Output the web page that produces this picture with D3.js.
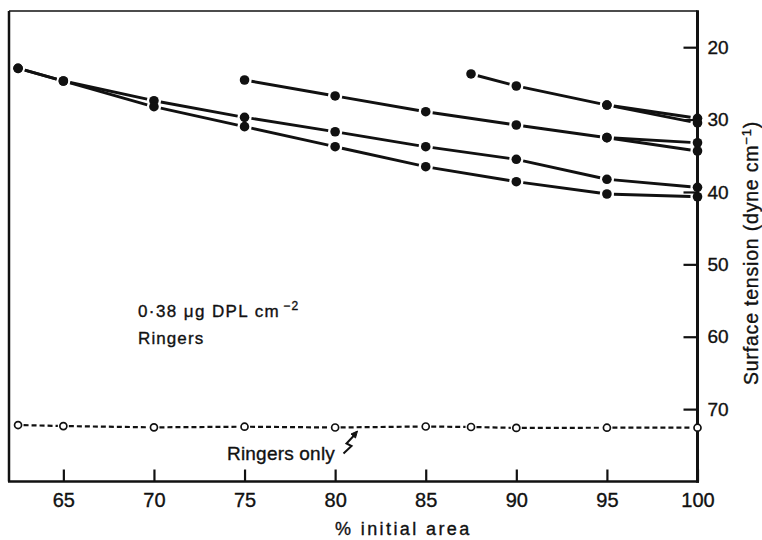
<!DOCTYPE html>
<html>
<head>
<meta charset="utf-8">
<script src="https://cdn.jsdelivr.net/npm/d3@7"></script>
<style>
  html, body { margin: 0; padding: 0; background: #fff; }
  svg { display: block; }
  text { font-family: "Liberation Sans", Arial, Helvetica, sans-serif; fill: #111; stroke: #111; stroke-width: 0.35px; }
</style>
</head>
<body>
<svg id="chart" width="762" height="540"></svg>
<script>
// ---- data ----
const xTicks = [65, 70, 75, 80, 85, 90, 95, 100];
const yTicks = [20, 30, 40, 50, 60, 70];

// DPL 0.38 µg/cm2 on Ringers: compressions to various % initial area
const areaA  = [87.5, 90, 95, 100];
const tensA  = [23.70, 25.36, 27.99, 29.82];
const areaA2 = [95, 100];
const tensA2 = [27.99, 30.47];
const areaB  = [75, 80, 85, 90, 95, 100];
const tensB  = [24.53, 26.74, 28.91, 30.75, 32.50, 33.20];
const areaB2 = [95, 100];
const tensB2 = [32.50, 34.34];
const areaC  = [62.5, 65, 70, 75, 80, 85, 90, 95, 100];
const tensC  = [22.92, 24.67, 27.39, 29.69, 31.68, 33.75, 35.49, 38.25, 39.36];
const areaD  = [62.5, 65, 70, 75, 80, 85, 90, 95, 100];
const tensD  = [22.92, 24.67, 28.22, 30.98, 33.75, 36.51, 38.58, 40.28, 40.66];

// Ringers only
const areaR = [62.5, 65, 70, 75, 80, 85, 87.5, 90, 95, 100];
const tensR = [72.20, 72.34, 72.52, 72.43, 72.54, 72.40, 72.47, 72.60, 72.57, 72.57];

const filledSeries = [
  [areaA, tensA], [areaA2, tensA2], [areaB, tensB], [areaB2, tensB2],
  [areaC, tensC], [areaD, tensD]
];

// ---- scales ----
const x = d3.scaleLinear().domain([62, 100]).range([9, 697.5]);
const y = d3.scaleLinear().domain([15, 80]).range([11, 481.5]);

const svg = d3.select("#chart");
const ink = "#111";

// shortened segment helper (lines stop short of markers, as in the original)
function segs(xs, ys, gap) {
  const out = [];
  for (let i = 0; i < xs.length - 1; i++) {
    const x1 = x(xs[i]), y1 = y(ys[i]), x2 = x(xs[i + 1]), y2 = y(ys[i + 1]);
    const dx = x2 - x1, dy = y2 - y1, L = Math.hypot(dx, dy);
    const ux = dx / L, uy = dy / L;
    out.push({ x1: x1 + ux * gap, y1: y1 + uy * gap, x2: x2 - ux * gap, y2: y2 - uy * gap });
  }
  return out;
}

// ---- frame ----
const [x0, x1] = x.range();
const [yTop, yBot] = y.range();
svg.append("line").attr("x1", x0).attr("x2", x1).attr("y1", yTop).attr("y2", yTop)
  .attr("stroke", ink).attr("stroke-width", 1.6);
svg.append("line").attr("x1", x0).attr("x2", x0).attr("y1", yTop).attr("y2", yBot)
  .attr("stroke", ink).attr("stroke-width", 2.5);

// ---- axes ----
const bottom = svg.append("g").attr("transform", `translate(0,${yBot})`)
  .call(d3.axisBottom(x).tickValues(xTicks).tickSize(-12).tickPadding(11).tickFormat(d3.format("d")));
bottom.select(".domain").remove();
bottom.selectAll(".tick line").attr("stroke", ink).attr("stroke-width", 2.2);
bottom.selectAll(".tick text").attr("font-size", 20).attr("font-family", "Liberation Sans, Arial, sans-serif").attr("fill", ink);

const right = svg.append("g").attr("transform", `translate(${x1},0)`)
  .call(d3.axisRight(y).tickValues(yTicks).tickSize(-14).tickPadding(10).tickFormat(d3.format("d")));
right.select(".domain").remove();
right.selectAll(".tick line").attr("stroke", ink).attr("stroke-width", 2.2);
right.selectAll(".tick text").attr("font-size", 19).attr("font-family", "Liberation Sans, Arial, sans-serif").attr("fill", ink);

svg.append("line").attr("x1", x0 - 1).attr("x2", x1 + 1.5).attr("y1", yBot).attr("y2", yBot)
  .attr("stroke", ink).attr("stroke-width", 2.7);
svg.append("line").attr("x1", x1).attr("x2", x1).attr("y1", yTop - 0.8).attr("y2", yBot + 1.3)
  .attr("stroke", ink).attr("stroke-width", 3);

// ---- Ringers only (dashed, open circles) ----
const gR = svg.append("g");
gR.selectAll("line").data(segs(areaR, tensR, 5.5)).join("line")
  .attr("x1", d => d.x1).attr("y1", d => d.y1).attr("x2", d => d.x2).attr("y2", d => d.y2)
  .attr("stroke", ink).attr("stroke-width", 2.2).attr("stroke-dasharray", "5,3");
gR.selectAll("circle").data(areaR.map((a, i) => [a, tensR[i]])).join("circle")
  .attr("cx", d => x(d[0])).attr("cy", d => y(d[1])).attr("r", 3.5)
  .attr("fill", "#fff").attr("stroke", ink).attr("stroke-width", 1.7);

// ---- filled series ----
filledSeries.forEach(([xs, ys]) => {
  const g = svg.append("g");
  g.selectAll("line").data(segs(xs, ys, 7)).join("line")
    .attr("x1", d => d.x1).attr("y1", d => d.y1).attr("x2", d => d.x2).attr("y2", d => d.y2)
    .attr("stroke", ink).attr("stroke-width", 2.9).attr("stroke-linecap", "butt");
  g.selectAll("circle").data(xs.map((a, i) => [a, ys[i]])).join("circle")
    .attr("cx", d => x(d[0])).attr("cy", d => y(d[1])).attr("r", 4.8).attr("fill", ink);
});

// ---- annotations ----
const ann = svg.append("text").attr("x", 138).attr("y", 316.5)
  .attr("font-size", 17).attr("letter-spacing", 1.4);
ann.append("tspan").text("0·38 μg DPL cm");
ann.append("tspan").attr("dy", -7).attr("font-size", 12).attr("dx", 3).text("−2");
svg.append("text").attr("x", 138).attr("y", 344).attr("font-size", 17).attr("letter-spacing", 1.1).text("Ringers");

svg.append("text").attr("x", 227).attr("y", 460).attr("font-size", 19).attr("letter-spacing", 0.2).text("Ringers only");
// squiggle arrow
svg.append("path")
  .attr("d", "M343.5,453.5 L351.5,446 L346.5,443.5 L354,435.5")
  .attr("fill", "none").attr("stroke", ink).attr("stroke-width", 2);
svg.append("path")
  .attr("d", "M357.5,431 L351,434 L355.5,438 Z").attr("fill", ink).attr("stroke", ink).attr("stroke-width", 1);

// axis titles
svg.append("text").attr("x", 335).attr("y", 535).attr("font-size", 18).attr("letter-spacing", 2.4)
  .text("% initial area");
const yt = svg.append("text").attr("transform", "translate(758,253) rotate(-90)")
  .attr("text-anchor", "middle").attr("font-size", 19.5).attr("letter-spacing", 0.8);
yt.append("tspan").text("Surface tension (dyne cm");
yt.append("tspan").attr("dy", -7).attr("font-size", 13).text("−1");
yt.append("tspan").attr("dy", 7).text(")");
</script>
</body>
</html>
